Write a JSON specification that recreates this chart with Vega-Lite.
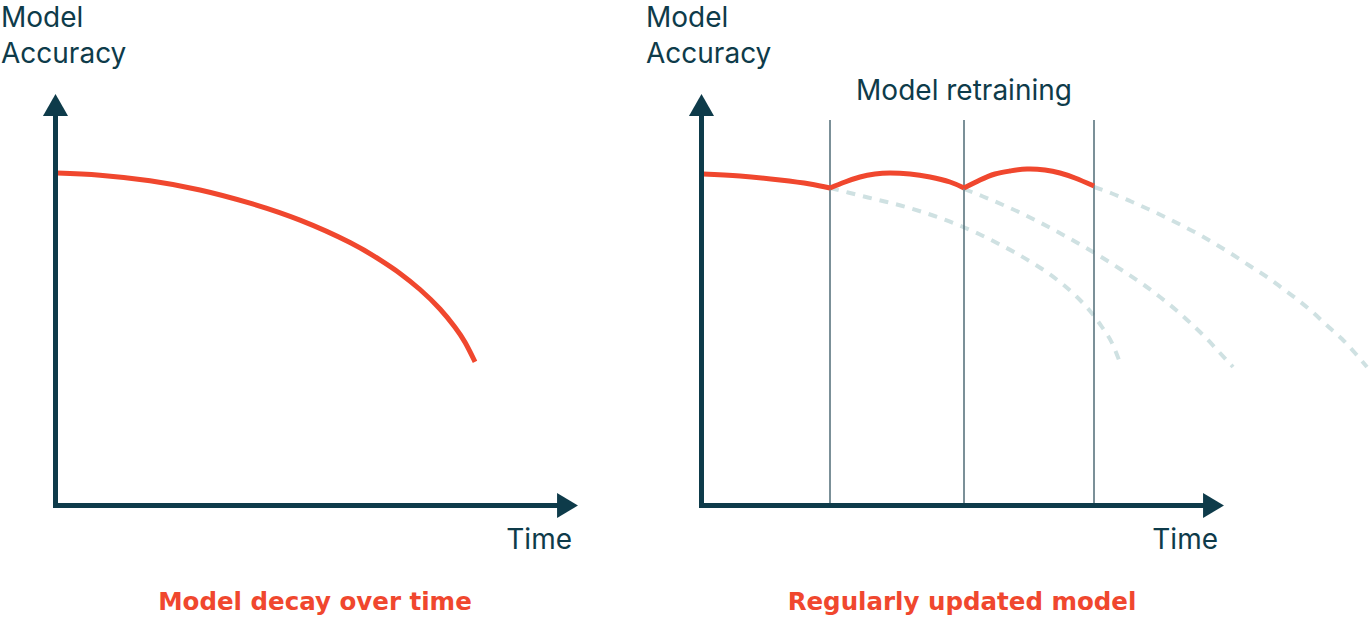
{
  "$schema": "https://vega.github.io/schema/vega-lite/v6.json",
  "width": 1371,
  "height": 623,
  "padding": 0,
  "autosize": {"type": "none"},
  "background": "white",
  "config": {"view": {"stroke": null}},
  "datasets": {
    "curves": [
      {"series": "decay", "x": 57, "y": 173}, {"series": "decay", "x": 100, "y": 175.2}, {"series": "decay", "x": 150, "y": 180.8}, {"series": "decay", "x": 200, "y": 190}, {"series": "decay", "x": 250, "y": 203.2}, {"series": "decay", "x": 300, "y": 220.2}, {"series": "decay", "x": 350, "y": 242.6}, {"series": "decay", "x": 380, "y": 259.9}, {"series": "decay", "x": 400, "y": 273.4}, {"series": "decay", "x": 420, "y": 289.5}, {"series": "decay", "x": 440, "y": 309}, {"series": "decay", "x": 455, "y": 327.3}, {"series": "decay", "x": 465, "y": 342.3}, {"series": "decay", "x": 475, "y": 361.8},
      {"series": "segA", "x": 703, "y": 174}, {"series": "segA", "x": 740, "y": 176}, {"series": "segA", "x": 780, "y": 180}, {"series": "segA", "x": 810, "y": 184}, {"series": "segA", "x": 830, "y": 188},
      {"series": "segB", "x": 830, "y": 188}, {"series": "segB", "x": 845, "y": 182}, {"series": "segB", "x": 860, "y": 177}, {"series": "segB", "x": 875, "y": 174}, {"series": "segB", "x": 890, "y": 173}, {"series": "segB", "x": 910, "y": 174}, {"series": "segB", "x": 930, "y": 177}, {"series": "segB", "x": 950, "y": 182}, {"series": "segB", "x": 964, "y": 188},
      {"series": "segC", "x": 964, "y": 188}, {"series": "segC", "x": 980, "y": 180}, {"series": "segC", "x": 995, "y": 174}, {"series": "segC", "x": 1010, "y": 171}, {"series": "segC", "x": 1027, "y": 169}, {"series": "segC", "x": 1045, "y": 170}, {"series": "segC", "x": 1060, "y": 173}, {"series": "segC", "x": 1075, "y": 178}, {"series": "segC", "x": 1094, "y": 186},
      {"series": "old1", "x": 830, "y": 188}, {"series": "old1", "x": 850, "y": 193}, {"series": "old1", "x": 868, "y": 197.5}, {"series": "old1", "x": 887, "y": 202}, {"series": "old1", "x": 906, "y": 207}, {"series": "old1", "x": 924, "y": 212.5}, {"series": "old1", "x": 943, "y": 219}, {"series": "old1", "x": 962, "y": 226.5}, {"series": "old1", "x": 979, "y": 234}, {"series": "old1", "x": 997, "y": 243}, {"series": "old1", "x": 1014, "y": 252}, {"series": "old1", "x": 1031, "y": 262}, {"series": "old1", "x": 1048, "y": 273}, {"series": "old1", "x": 1063, "y": 284.5}, {"series": "old1", "x": 1077, "y": 297}, {"series": "old1", "x": 1090, "y": 311}, {"series": "old1", "x": 1102, "y": 327}, {"series": "old1", "x": 1112, "y": 343}, {"series": "old1", "x": 1119, "y": 360},
      {"series": "old2", "x": 964, "y": 189}, {"series": "old2", "x": 983, "y": 196.5}, {"series": "old2", "x": 1002, "y": 204.5}, {"series": "old2", "x": 1021, "y": 213}, {"series": "old2", "x": 1039, "y": 222}, {"series": "old2", "x": 1057, "y": 231.5}, {"series": "old2", "x": 1075, "y": 241.5}, {"series": "old2", "x": 1093, "y": 252}, {"series": "old2", "x": 1110, "y": 262.5}, {"series": "old2", "x": 1127, "y": 273.5}, {"series": "old2", "x": 1144, "y": 285}, {"series": "old2", "x": 1160, "y": 297}, {"series": "old2", "x": 1176, "y": 310}, {"series": "old2", "x": 1191, "y": 323.5}, {"series": "old2", "x": 1206, "y": 338}, {"series": "old2", "x": 1220, "y": 353}, {"series": "old2", "x": 1233, "y": 367},
      {"series": "old3", "x": 1094, "y": 187}, {"series": "old3", "x": 1112, "y": 193.5}, {"series": "old3", "x": 1130, "y": 201}, {"series": "old3", "x": 1148, "y": 209}, {"series": "old3", "x": 1165, "y": 217}, {"series": "old3", "x": 1183, "y": 226}, {"series": "old3", "x": 1200, "y": 235}, {"series": "old3", "x": 1217, "y": 245}, {"series": "old3", "x": 1234, "y": 255.5}, {"series": "old3", "x": 1250, "y": 266}, {"series": "old3", "x": 1267, "y": 277}, {"series": "old3", "x": 1282, "y": 288}, {"series": "old3", "x": 1298, "y": 300}, {"series": "old3", "x": 1313, "y": 312.5}, {"series": "old3", "x": 1327, "y": 325.5}, {"series": "old3", "x": 1342, "y": 339}, {"series": "old3", "x": 1355, "y": 353}, {"series": "old3", "x": 1367, "y": 367}
    ],
    "axes": [
      {"x1": 55.5, "y1": 508, "x2": 55.5, "y2": 110},
      {"x1": 53, "y1": 505.5, "x2": 562, "y2": 505.5},
      {"x1": 701.5, "y1": 508, "x2": 701.5, "y2": 110},
      {"x1": 699, "y1": 505.5, "x2": 1208, "y2": 505.5}
    ],
    "retrain": [
      {"x1": 830, "y1": 120, "x2": 830, "y2": 505},
      {"x1": 964, "y1": 120, "x2": 964, "y2": 505},
      {"x1": 1094, "y1": 120, "x2": 1094, "y2": 505}
    ],
    "arrows": [
      {"dir": "up", "x": 55.5, "y": 105},
      {"dir": "right", "x": 567.5, "y": 505.5},
      {"dir": "up", "x": 701.5, "y": 105},
      {"dir": "right", "x": 1213.5, "y": 505.5}
    ],
    "labels": [
      {"role": "axis", "x": 1, "y": 27, "text": "Model"},
      {"role": "axis", "x": 1, "y": 63, "text": "Accuracy"},
      {"role": "axis", "x": 646, "y": 27, "text": "Model"},
      {"role": "axis", "x": 646, "y": 63, "text": "Accuracy"},
      {"role": "center", "x": 964, "y": 100, "text": "Model retraining"},
      {"role": "time", "x": 572, "y": 549, "text": "Time"},
      {"role": "time", "x": 1218, "y": 549, "text": "Time"},
      {"role": "title", "x": 315, "y": 610, "text": "Model decay over time"},
      {"role": "title", "x": 962, "y": 610, "text": "Regularly updated model"}
    ]
  },
  "encoding": {
    "x": {"type": "quantitative", "scale": {"domain": [0, 1371], "nice": false, "zero": false}, "axis": null},
    "y": {"type": "quantitative", "scale": {"domain": [0, 623], "nice": false, "zero": false, "reverse": true}, "axis": null}
  },
  "layer": [
    {
      "data": {"name": "curves"},
      "transform": [{"filter": "indexof(datum.series, 'old') === 0"}],
      "mark": {"type": "line", "color": "#cfe1e2", "strokeWidth": 4, "strokeDash": [9, 8], "interpolate": "monotone", "clip": false},
      "encoding": {"x": {"field": "x"}, "y": {"field": "y"}, "detail": {"field": "series"}, "order": {"field": "x"}}
    },
    {
      "data": {"name": "retrain"},
      "mark": {"type": "rule", "color": "#4f6b76", "strokeWidth": 1.5},
      "encoding": {"x": {"field": "x1"}, "y": {"field": "y1"}, "x2": {"field": "x2"}, "y2": {"field": "y2"}}
    },
    {
      "data": {"name": "curves"},
      "transform": [{"filter": "indexof(datum.series, 'old') !== 0"}],
      "mark": {"type": "line", "color": "#f0472e", "strokeWidth": 5, "interpolate": "natural", "strokeJoin": "miter"},
      "encoding": {"x": {"field": "x"}, "y": {"field": "y"}, "detail": {"field": "series"}, "order": {"field": "x"}}
    },
    {
      "data": {"name": "axes"},
      "mark": {"type": "rule", "color": "#0e3b4a", "strokeWidth": 5, "strokeCap": "butt"},
      "encoding": {"x": {"field": "x1"}, "y": {"field": "y1"}, "x2": {"field": "x2"}, "y2": {"field": "y2"}}
    },
    {
      "data": {"name": "arrows"},
      "transform": [{"filter": "datum.dir === 'up'"}],
      "mark": {"type": "point", "shape": "M0,-1L1.14,1L-1.14,1Z", "size": 484, "filled": true, "opacity": 1, "color": "#0e3b4a", "strokeWidth": 0},
      "encoding": {"x": {"field": "x"}, "y": {"field": "y"}}
    },
    {
      "data": {"name": "arrows"},
      "transform": [{"filter": "datum.dir === 'right'"}],
      "mark": {"type": "point", "shape": "M-0.95,-1.14L0.95,0L-0.95,1.14Z", "size": 484, "filled": true, "opacity": 1, "color": "#0e3b4a", "strokeWidth": 0},
      "encoding": {"x": {"field": "x"}, "y": {"field": "y"}}
    },
    {
      "data": {"name": "labels"},
      "transform": [{"filter": "datum.role === 'axis'"}],
      "mark": {"type": "text", "align": "left", "baseline": "alphabetic", "font": "Inter", "fontSize": 28, "color": "#0e3b4a"},
      "encoding": {"x": {"field": "x"}, "y": {"field": "y"}, "text": {"field": "text"}}
    },
    {
      "data": {"name": "labels"},
      "transform": [{"filter": "datum.role === 'center'"}],
      "mark": {"type": "text", "align": "center", "baseline": "alphabetic", "font": "Inter", "fontSize": 28, "color": "#0e3b4a"},
      "encoding": {"x": {"field": "x"}, "y": {"field": "y"}, "text": {"field": "text"}}
    },
    {
      "data": {"name": "labels"},
      "transform": [{"filter": "datum.role === 'time'"}],
      "mark": {"type": "text", "align": "right", "baseline": "alphabetic", "font": "Inter", "fontSize": 28, "color": "#0e3b4a"},
      "encoding": {"x": {"field": "x"}, "y": {"field": "y"}, "text": {"field": "text"}}
    },
    {
      "data": {"name": "labels"},
      "transform": [{"filter": "datum.role === 'title'"}],
      "mark": {"type": "text", "align": "center", "baseline": "alphabetic", "font": "DejaVu Sans", "fontSize": 24.5, "fontWeight": "bold", "color": "#f0472e"},
      "encoding": {"x": {"field": "x"}, "y": {"field": "y"}, "text": {"field": "text"}}
    }
  ]
}
